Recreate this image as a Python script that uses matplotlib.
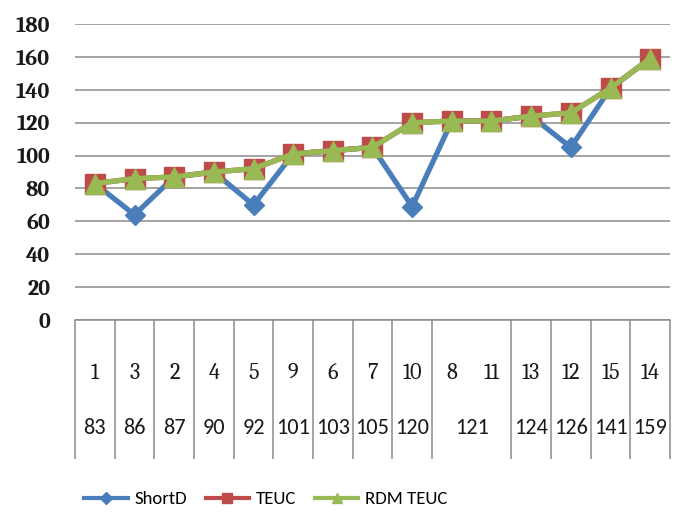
import matplotlib
matplotlib.use("Agg")
import matplotlib.pyplot as plt
from matplotlib.patches import Rectangle
from matplotlib.lines import Line2D
import matplotlib.transforms as mtransforms

# ---- data ----
ids = ["1", "3", "2", "4", "5", "9", "6", "7", "10", "8", "11", "13", "12", "15", "14"]
groups = ["83", "86", "87", "90", "92", "101", "103", "105", "120", "121", "121", "124", "126", "141", "159"]
shortd = [83, 64, 87, 90, 70, 101, 103, 105, 69, 121, 121, 124, 105, 141, 159]
teuc = [83, 86, 87, 90, 92, 101, 103, 105, 120, 121, 121, 124, 126, 141, 159]
rdm_teuc = [83, 86, 87, 90, 92, 101, 103, 105, 120, 121, 121, 124, 126, 141, 159]
yticks = [0, 20, 40, 60, 80, 100, 120, 140, 160, 180]

SERIF = ["Caladea", "Liberation Serif", "DejaVu Serif"]
SANS = ["Carlito", "PT Sans Narrow", "DejaVu Sans"]

W, H = 685, 515
fig = plt.figure(figsize=(W / 100, H / 100), dpi=100)
ax = fig.add_axes([75 / W, 1 - 320 / H, (670 - 75) / W, (320 - 24) / H])

x = list(range(len(ids)))
blue, red, green = "#4A7EBB", "#BE4B48", "#98B954"
ax.plot(x, shortd, color=blue, lw=3.8, marker="D", ms=10, mfc=blue, mec=blue, zorder=3, label="ShortD")
ax.plot(x, teuc, color=red, lw=3.8, marker="s", ms=15, mfc=red, mec=red, zorder=4, label="TEUC")
ax.plot(x, rdm_teuc, color=green, lw=3.8, marker="^", ms=14, mfc=green, mec=green, zorder=5, label="RDM TEUC")

ax.set_xlim(-0.5, len(ids) - 0.5)
ax.set_ylim(0, 180)
ax.set_yticks(yticks)
ax.set_yticklabels([str(v) for v in yticks], fontsize=16, fontweight="bold",
                   family=SERIF, color="#1a1a1a")
ax.tick_params(axis="y", length=0, pad=18)
ax.grid(axis="y", color="#8c8c8c", lw=1.1)
ax.set_axisbelow(True)
for s in ["left", "right", "top"]:
    ax.spines[s].set_visible(False)
ax.spines["bottom"].set_color("#8c8c8c")
ax.spines["bottom"].set_linewidth(1.1)

# group boundaries (separator ticks), skip boundary inside merged groups
bounds = [-0.5]
for i in range(len(ids) - 1):
    if groups[i] != groups[i + 1]:
        bounds.append(i + 0.5)
bounds.append(len(ids) - 0.5)
ax.set_xticks(bounds)
ax.set_xticklabels([""] * len(bounds))
ax.tick_params(axis="x", which="major", length=100, width=1.1, color="#8c8c8c", direction="out")
ax.set_xticks(x, minor=True)
ax.set_xticklabels(ids, minor=True, fontsize=16, fontweight="normal", family=SERIF, color="#1a1a1a")
ax.tick_params(axis="x", which="minor", length=0, pad=31)

# lower-level group labels
trans = mtransforms.blended_transform_factory(ax.transData, ax.transAxes)
i = 0
while i < len(groups):
    j = i
    while j + 1 < len(groups) and groups[j + 1] == groups[i]:
        j += 1
    ax.text((i + j) / 2, -0.365, groups[i], transform=trans, ha="center", va="center",
            fontsize=16, family=SANS, color="#1a1a1a")
    i = j + 1

# legend
handles = [
    Line2D([], [], color=blue, lw=3, marker="D", ms=6, mfc=blue, mec=blue),
    Line2D([], [], color=red, lw=3, marker="s", ms=7, mfc=red, mec=red),
    Line2D([], [], color=green, lw=3, marker="^", ms=7, mfc=green, mec=green),
]
fig.legend(handles, ["ShortD", "TEUC", "RDM TEUC"], loc="center",
           bbox_to_anchor=(266 / W, 1 - 499 / H), ncol=3, frameon=False,
           prop={"family": SANS, "size": 13.5}, handlelength=2.3,
           columnspacing=1.0, handletextpad=0.37)

# bottom of the picture is cut off in the reference
fig.patches.append(Rectangle((0, 0), 1, 10 / H, transform=fig.transFigure,
                             facecolor="white", edgecolor="none", zorder=20))

fig.savefig("out.png", dpi=100)
